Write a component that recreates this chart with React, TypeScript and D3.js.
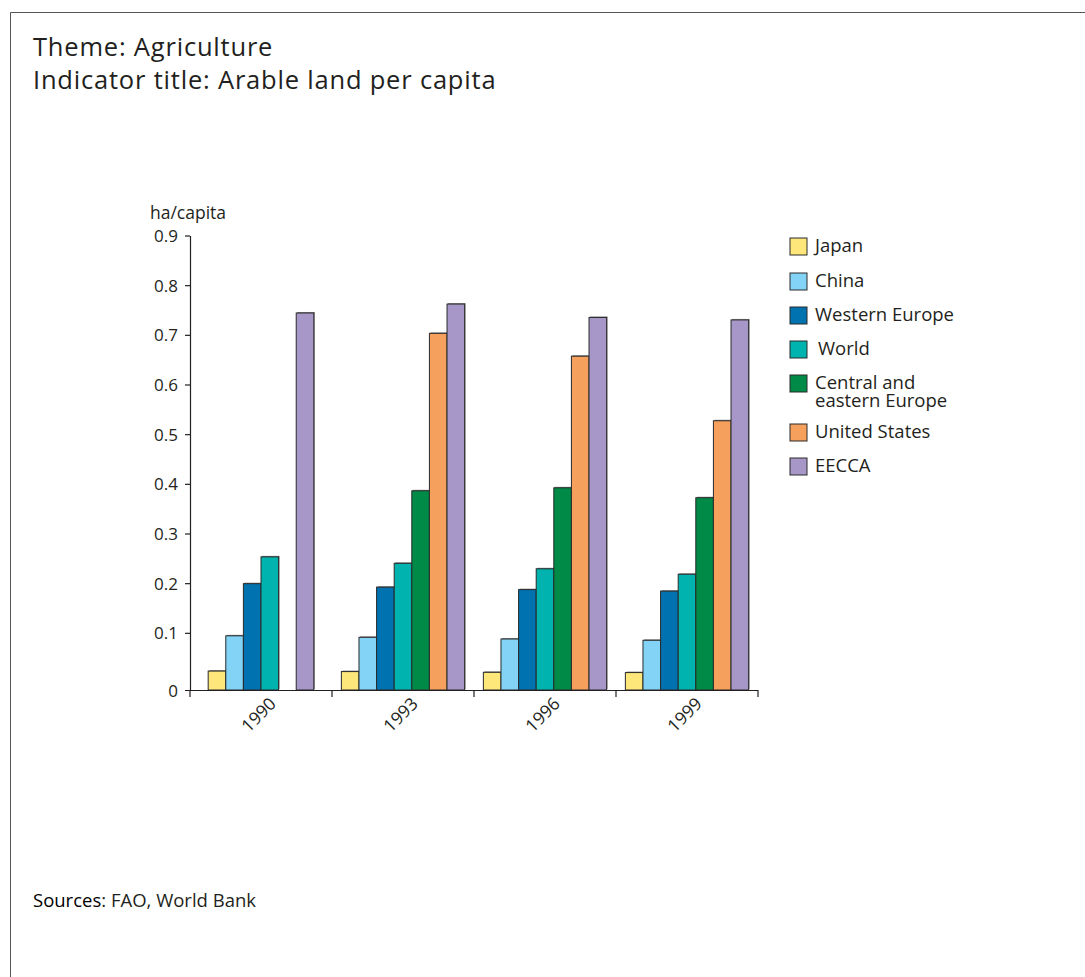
import React from "react";
import * as d3 from "d3";

const years = ["1990", "1993", "1996", "1999"];
const seriesNames = [
  "Japan",
  "China",
  "Western Europe",
  "World",
  "Central and eastern Europe",
  "United States",
  "EECCA",
];
const seriesColors = ["#fee77a", "#82d3f6", "#0072b0", "#00b3ae", "#008a47", "#f6a05e", "#a797c8"];

const japan = [0.024, 0.023, 0.0215, 0.021];
const china = [0.095, 0.092, 0.0886, 0.086];
const westernEurope = [0.2, 0.193, 0.188, 0.185];
const world = [0.254, 0.241, 0.23, 0.219];
const centralEasternEurope = [null, 0.387, 0.393, 0.373];
const unitedStates = [null, 0.704, 0.658, 0.528];
const eecca = [0.745, 0.763, 0.736, 0.731];

// series reported (given a slot) in each year
const seriesInYear = [
  ["Japan", "China", "Western Europe", "World", "Central and eastern Europe", "EECCA"],
  seriesNames,
  seriesNames,
  seriesNames,
];

const yTicks = [0.1, 0.2, 0.3, 0.4, 0.5, 0.6, 0.7, 0.8, 0.9];

const values: (number | null)[][] = [
  japan,
  china,
  westernEurope,
  world,
  centralEasternEurope,
  unitedStates,
  eecca,
];

const FONT = "'Open Sans', 'Noto Sans', sans-serif";
const INK = "#231f20";

export default function App() {
  const W = 1085;
  const H = 977;
  const axisX = 190;
  const baseY = 690;
  const x = d3.scaleBand<string>().domain(years).range([axisX, 758]).padding(0);
  const y = d3.scaleLinear().domain([0, 0.9]).range([683, 236]);
  const barW = x.bandwidth() * 0.124;

  const legendRows = [
    { lines: ["Japan"], y: 246, dx: 0 },
    { lines: ["China"], y: 281, dx: 0 },
    { lines: ["Western Europe"], y: 315, dx: 0 },
    { lines: ["World"], y: 349, dx: 3 },
    { lines: ["Central and", "eastern Europe"], y: 383, dx: 0 },
    { lines: ["United States"], y: 432, dx: 0 },
    { lines: ["EECCA"], y: 466, dx: 0 },
  ];

  return (
    <div style={{ position: "absolute", left: 0, top: 0 }}>
      <svg width={W} height={H} style={{ display: "block" }} fontFamily={FONT}>
        <rect width={W} height={H} fill="#ffffff" />
        {/* frame */}
        <line x1={10.5} y1={12.5} x2={W} y2={12.5} stroke="#555" strokeWidth={1} />
        <line x1={10.5} y1={12.5} x2={10.5} y2={H} stroke="#555" strokeWidth={1} />

        <text x={33} y={56} fontSize={25.5} letterSpacing={0.8} fill={INK}>Theme: Agriculture</text>
        <text x={33} y={89} fontSize={25.5} letterSpacing={0.8} fill={INK}>Indicator title: Arable land per capita</text>

        {/* y axis */}
        <text x={150} y={219} fontSize={17.5} fill={INK}>ha/capita</text>
        <line x1={axisX + 0.5} y1={236} x2={axisX + 0.5} y2={baseY} stroke={INK} strokeWidth={1.2} />
        {yTicks.map((t) => (
          <g key={t}>
            <line x1={axisX - 5} x2={axisX} y1={y(t)} y2={y(t)} stroke={INK} strokeWidth={1.2} />
            <text x={178} y={y(t) + 6} fontSize={17} textAnchor="end" fill={INK}>
              {t.toFixed(1)}
            </text>
          </g>
        ))}
        <text x={178} y={baseY + 7} fontSize={17} textAnchor="end" fill={INK}>0</text>

        {/* bars */}
        {years.map((yr, yi) => {
          const present = seriesInYear[yi];
          const inner = d3
            .scaleBand<string>()
            .domain(present)
            .range([0, barW * present.length]);
          const offset = (x(yr) as number) + (x.bandwidth() - barW * present.length) / 2;
          return (
            <g key={yr}>
              {present.map((s) => {
                const si = seriesNames.indexOf(s);
                const v = values[si][yi];
                if (v == null) return null;
                const bx = offset + (inner(s) as number);
                const by = y(v);
                return (
                  <g key={s}>
                    <rect x={bx + 1} y={by - 1} width={barW} height={baseY - by} fill="#8c8c8c" />
                    <rect
                      x={bx}
                      y={by}
                      width={barW}
                      height={baseY - by}
                      fill={seriesColors[si]}
                      stroke="#2a2a2a"
                      strokeWidth={1}
                    />
                  </g>
                );
              })}
            </g>
          );
        })}

        {/* x axis */}
        <line x1={185} x2={758} y1={baseY + 0.5} y2={baseY + 0.5} stroke={INK} strokeWidth={1.2} />
        {[...years.map((yr) => x(yr) as number), 758].map((tx, i) => (
          <line key={i} x1={tx} x2={tx} y1={baseY} y2={baseY + 7} stroke={INK} strokeWidth={1.2} />
        ))}
        {years.map((yr) => (
          <text
            key={yr}
            transform={`translate(${(x(yr) as number) + x.bandwidth() / 2 + 2},${baseY + 29}) rotate(-45)`}
            fontSize={17.5}
            textAnchor="middle"
            fill={INK}
          >
            {yr}
          </text>
        ))}

        {/* legend */}
        {legendRows.map((r, i) => (
          <g key={i}>
            <rect x={790} y={r.y - 8} width={17} height={17} fill={seriesColors[i]} stroke="#2a2a2a" strokeWidth={1} />
            <text x={815 + r.dx} y={r.y + 6} fontSize={18.5} fill={INK}>
              {r.lines.map((ln, li) => (
                <tspan key={li} x={815 + r.dx} dy={li === 0 ? 0 : 18}>
                  {ln}
                </tspan>
              ))}
            </text>
          </g>
        ))}

        <text x={33} y={907} fontSize={18.5} fill={INK}>
          <tspan fill="#000">Sources</tspan>: FAO, World Bank
        </text>
      </svg>
    </div>
  );
}
